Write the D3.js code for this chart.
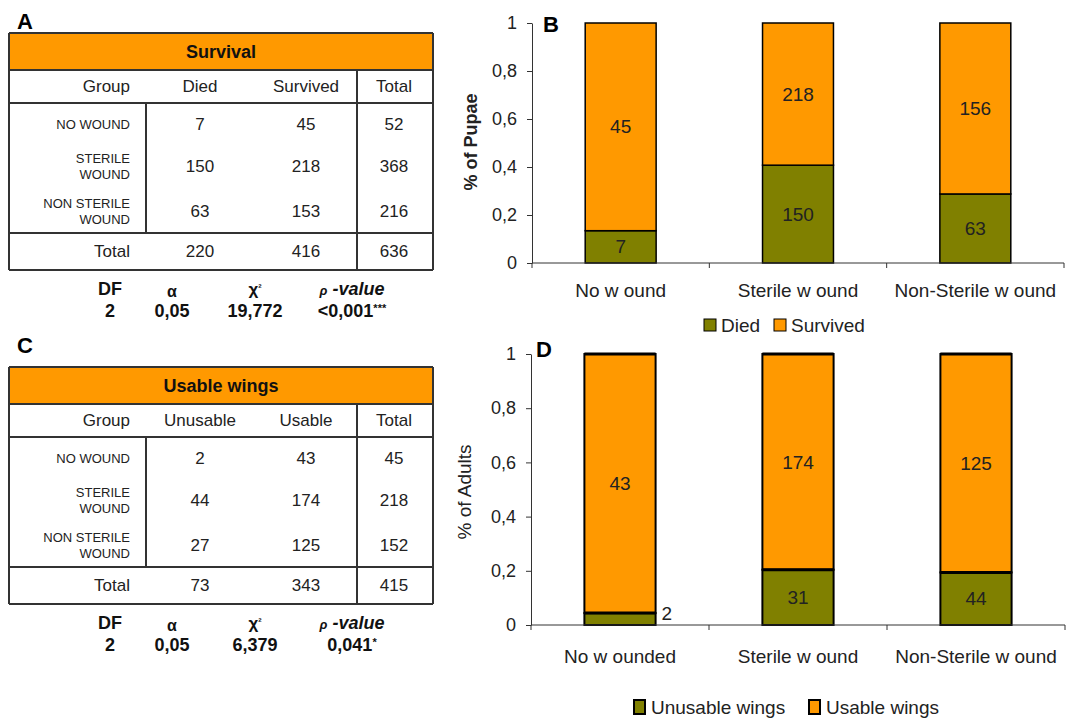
<!DOCTYPE html>
<html>
<head>
<meta charset="utf-8">
<script src="https://cdn.jsdelivr.net/npm/d3@7"></script>
<style>
  body { margin: 0; background: #fff; }
  svg { font-family: "Liberation Sans", Arial, sans-serif; }
</style>
</head>
<body>
<div id="chart"></div>
<script>
// ---- table data ----
const tableGroups = [['NO WOUND'], ['STERILE', 'WOUND'], ['NON STERILE', 'WOUND']];
const statHeads = ['DF', 'α', 'χ', 'ρ'];

const survivalCols = ['Died', 'Survived', 'Total'];
const survivalDied = [7, 150, 63];
const survivalAlive = [45, 218, 153];
const survivalTotal = [52, 368, 216];
const survivalSums = [220, 416, 636];
const survivalStats = ['2', '0,05', '19,772', '<0,001***'];

const wingsCols = ['Unusable', 'Usable', 'Total'];
const wingsUnusable = [2, 44, 27];
const wingsUsable = [43, 174, 125];
const wingsTotal = [45, 218, 152];
const wingsSums = [73, 343, 415];
const wingsStats = ['2', '0,05', '6,379', '0,041*'];

// ---- chart data ----
const pupaeCats = ['No w ound', 'Sterile w ound', 'Non-Sterile w ound'];
const pupaeDied = [7, 150, 63];
const pupaeSurvived = [45, 218, 156];

const adultCats = ['No w ounded', 'Sterile w ound', 'Non-Sterile w ound'];
const adultUnusableShare = [0.044, 0.204, 0.194];
const adultUnusableLabel = [2, 31, 44];
const adultUsableLabel = [43, 174, 125];

const yTicks = [0, 0.2, 0.4, 0.6, 0.8, 1];

const ORANGE = '#ff9900';
const OLIVE = '#808000';
const INK = '#222';

const svg = d3.select('#chart').append('svg').attr('width', 1068).attr('height', 720);

function drawTable(top, title, cols, c1, c2, c3, sums, stats) {
  const left = 9, right = 433, divA = 146, divB = 357;
  const g = svg.append('g').attr('transform', 'translate(0,' + top + ')');
  const yTitle = 37, yHead = 70, yBody = 200, yEnd = 237;

  g.append('rect').attr('x', left).attr('y', 0).attr('width', right - left).attr('height', yTitle)
    .attr('fill', ORANGE);
  const lines = [
    [left, 0, right, 0], [left, yEnd, right, yEnd], [left, 0, left, yEnd], [right, 0, right, yEnd],
    [left, yTitle, right, yTitle], [left, yHead, right, yHead], [left, yBody, right, yBody],
    [divA, yHead, divA, yBody], [divB, yTitle, divB, yEnd]
  ];
  g.selectAll('line.grid').data(lines).join('line').attr('class', 'grid')
    .attr('x1', d => d[0]).attr('y1', d => d[1]).attr('x2', d => d[2]).attr('y2', d => d[3])
    .attr('stroke', '#333').attr('stroke-width', 2);

  g.append('text').attr('x', (left + right) / 2).attr('y', yTitle / 2).attr('dy', '0.35em')
    .attr('text-anchor', 'middle').attr('font-size', 18).attr('font-weight', 'bold').attr('fill', '#111')
    .text(title);

  const colX = [200, 306, 394];
  const hy = (yTitle + yHead) / 2;
  g.append('text').attr('x', 130).attr('y', hy).attr('dy', '0.35em').attr('text-anchor', 'end')
    .attr('font-size', 17).attr('fill', INK).text('Group');
  cols.forEach((c, i) => {
    g.append('text').attr('x', colX[i]).attr('y', hy).attr('dy', '0.35em').attr('text-anchor', 'middle')
      .attr('font-size', 17).attr('fill', INK).text(c);
  });

  const rowY = [yHead + 21, yHead + 63, yHead + 108];
  tableGroups.forEach((lab, r) => {
    lab.forEach((t, k) => {
      const off = lab.length === 1 ? 0 : (k === 0 ? -8 : 8);
      g.append('text').attr('x', 130).attr('y', rowY[r] + off).attr('dy', '0.35em').attr('text-anchor', 'end')
        .attr('font-size', 13).attr('fill', INK).text(t);
    });
    [c1[r], c2[r], c3[r]].forEach((v, i) => {
      g.append('text').attr('x', colX[i]).attr('y', rowY[r]).attr('dy', '0.35em').attr('text-anchor', 'middle')
        .attr('font-size', 17).attr('fill', INK).text(v);
    });
  });

  const ty = (yBody + yEnd) / 2;
  g.append('text').attr('x', 130).attr('y', ty).attr('dy', '0.35em').attr('text-anchor', 'end')
    .attr('font-size', 17).attr('fill', INK).text('Total');
  sums.forEach((v, i) => {
    g.append('text').attr('x', colX[i]).attr('y', ty).attr('dy', '0.35em').attr('text-anchor', 'middle')
      .attr('font-size', 17).attr('fill', INK).text(v);
  });

  // stats rows
  const statX = [110, 172, 255, 352];
  const sh = g.append('g').attr('font-weight', 'bold').attr('fill', '#111').attr('text-anchor', 'middle');
  sh.append('text').attr('x', statX[0]).attr('y', 256).attr('dy', '0.35em').attr('font-size', 18).text(statHeads[0]);
  sh.append('text').attr('x', statX[1]).attr('y', 258).attr('dy', '0.35em').attr('font-size', 16).text(statHeads[1]);
  const chi = sh.append('text').attr('x', statX[2]).attr('y', 256).attr('dy', '0.35em').attr('font-size', 17);
  chi.append('tspan').text(statHeads[2]);
  chi.append('tspan').attr('font-size', 10).attr('dy', '-0.4em').text('²');
  const pv = sh.append('text').attr('x', statX[3]).attr('y', 256).attr('dy', '0.35em').attr('font-size', 18)
    .attr('font-style', 'italic');
  pv.append('tspan').attr('font-size', 13).text(statHeads[3]);
  pv.append('tspan').text(' -value');
  stats.forEach((s, i) => {
    const t = sh.append('text').attr('x', statX[i]).attr('y', 278).attr('dy', '0.35em').attr('font-size', 18);
    const m = s.match(/^([^*]*)(\**)$/);
    t.append('tspan').text(m[1]);
    if (m[2]) t.append('tspan').attr('font-size', 11).attr('dy', '-0.45em').text(m[2]);
  });
}

function drawChart(o) {
  const x = d3.scaleBand().domain(o.cats).range([o.x0, o.x1]).paddingInner(0.6).paddingOuter(0.3);
  const y = d3.scaleLinear().domain([0, 1]).range([o.y0, o.y1]);
  const g = svg.append('g');

  // bars
  o.cats.forEach((c, i) => {
    const share = o.share[i];
    g.append('rect').attr('x', x(c)).attr('width', x.bandwidth())
      .attr('y', y(share)).attr('height', y(0) - y(share))
      .attr('fill', OLIVE).attr('stroke', '#000').attr('stroke-width', o.stroke);
    g.append('rect').attr('x', x(c)).attr('width', x.bandwidth())
      .attr('y', y(1)).attr('height', y(share) - y(1))
      .attr('fill', ORANGE).attr('stroke', '#000').attr('stroke-width', o.stroke);
    if (o.heavy) {
      [1, share].forEach(v => {
        g.append('line').attr('x1', x(c)).attr('x2', x(c) + x.bandwidth())
          .attr('y1', y(v)).attr('y2', y(v)).attr('stroke', '#000').attr('stroke-width', 3);
      });
    }
    const lab = g.append('g').attr('font-size', 19).attr('fill', INK);
    lab.append('text').attr('x', x(c) + x.bandwidth() / 2).attr('y', y((1 + share) / 2)).attr('dy', '0.35em')
      .attr('text-anchor', 'middle').text(o.topLabel[i]);
    if (o.outside && o.outside(i)) {
      lab.append('text').attr('x', x(c) + x.bandwidth() + 6).attr('y', y(share)).attr('dy', '0.35em')
        .text(o.bottomLabel[i]);
    } else {
      lab.append('text').attr('x', x(c) + x.bandwidth() / 2).attr('y', y(share / 2)).attr('dy', '0.35em')
        .attr('text-anchor', 'middle').text(o.bottomLabel[i]);
    }
  });

  // y axis
  const ya = g.append('g').attr('transform', 'translate(' + o.x0 + ',0)')
    .call(d3.axisLeft(y).tickValues(yTicks).tickSize(5).tickSizeOuter(0).tickPadding(10)
      .tickFormat(d => String(d).replace('.', ',')));
  ya.selectAll('text').attr('font-size', 18).attr('fill', INK).attr('font-family', null);
  ya.selectAll('line, path').attr('stroke', '#333');

  // x axis: band boundaries as ticks, labels at centers
  const step = x.step();
  g.append('line').attr('x1', o.x0).attr('x2', o.x1).attr('y1', y(0)).attr('y2', y(0)).attr('stroke', '#333');
  d3.range(o.cats.length + 1).forEach(k => {
    const bx = o.x0 + k * step;
    g.append('line').attr('x1', bx).attr('x2', bx).attr('y1', y(0)).attr('y2', y(0) + 5).attr('stroke', '#333');
  });
  o.cats.forEach(c => {
    g.append('text').attr('x', x(c) + x.bandwidth() / 2).attr('y', o.catY).attr('dy', '0.35em')
      .attr('text-anchor', 'middle').attr('font-size', 19).attr('fill', INK).text(c);
  });

  // y title
  g.append('text').attr('transform', 'translate(' + o.titleX + ',' + o.titleY + ') rotate(-90)')
    .attr('dy', '0.35em').attr('text-anchor', 'middle').attr('font-size', o.titleSize)
    .attr('font-weight', o.titleWeight).attr('fill', INK).text(o.title);

  // legend
  o.legend.forEach((l, i) => {
    g.append('rect').attr('x', l.x).attr('y', o.legendY - o.sw[1] / 2).attr('width', o.sw[0]).attr('height', o.sw[1])
      .attr('fill', i === 0 ? OLIVE : ORANGE).attr('stroke', '#000').attr('stroke-width', o.legendStroke);
    g.append('text').attr('x', l.tx).attr('y', o.legendY).attr('dy', '0.35em')
      .attr('font-size', 19).attr('fill', INK).text(l.text);
  });

  // panel letter
  g.append('text').attr('x', o.letterX).attr('y', o.letterY).attr('font-size', 22)
    .attr('font-weight', 'bold').attr('fill', '#000').text(o.letter);
}

// panel letters for tables
svg.append('text').attr('x', 17).attr('y', 29).attr('font-size', 22).attr('font-weight', 'bold').text('A');
svg.append('text').attr('x', 17).attr('y', 353).attr('font-size', 22).attr('font-weight', 'bold').text('C');

drawTable(33, 'Survival', survivalCols, survivalDied, survivalAlive, survivalTotal, survivalSums, survivalStats);
drawTable(367, 'Usable wings', wingsCols, wingsUnusable, wingsUsable, wingsTotal, wingsSums, wingsStats);

drawChart({
  cats: pupaeCats,
  share: pupaeDied.map((d, i) => d / (d + pupaeSurvived[i])),
  topLabel: pupaeSurvived, bottomLabel: pupaeDied,
  x0: 532, x1: 1064, y0: 263, y1: 23, stroke: 1.5, heavy: false,
  catY: 290, title: '% of Pupae', titleX: 471, titleY: 142, titleSize: 18, titleWeight: 'bold',
  legendY: 325, sw: [12, 12], legendStroke: 1,
  legend: [{ x: 704, tx: 721, text: 'Died' }, { x: 774, tx: 791, text: 'Survived' }],
  letter: 'B', letterX: 543, letterY: 32
});

drawChart({
  cats: adultCats,
  share: adultUnusableShare,
  topLabel: adultUsableLabel, bottomLabel: adultUnusableLabel,
  outside: i => adultUnusableShare[i] < 0.1,
  x0: 531, x1: 1065, y0: 625, y1: 354, stroke: 2, heavy: true,
  catY: 656, title: '% of Adults', titleX: 464, titleY: 492, titleSize: 19, titleWeight: 'normal',
  legendY: 707, sw: [11, 14], legendStroke: 2,
  legend: [{ x: 634, tx: 651, text: 'Unusable wings' }, { x: 809, tx: 826, text: 'Usable wings' }],
  letter: 'D', letterX: 536, letterY: 357
});
</script>
</body>
</html>
